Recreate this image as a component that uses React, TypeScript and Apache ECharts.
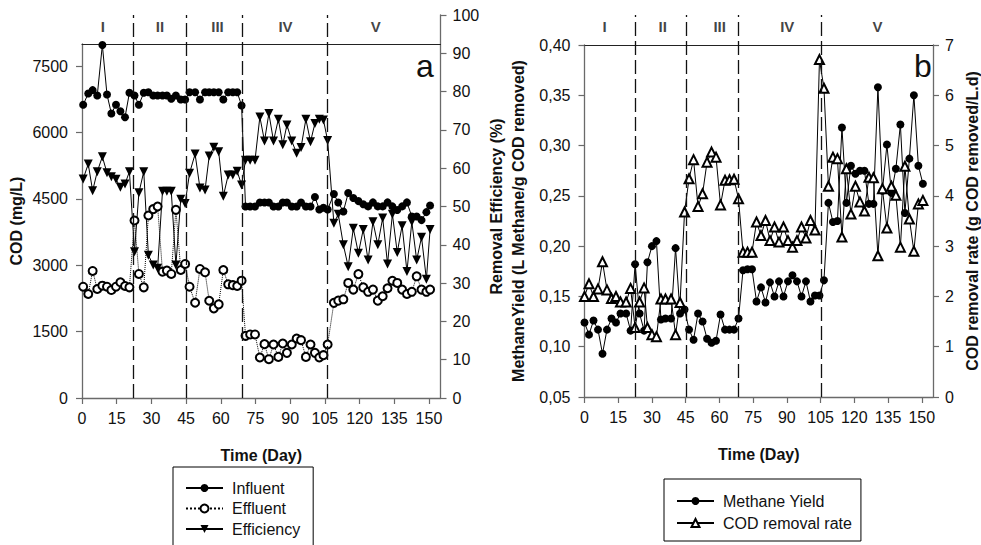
import React, { useEffect, useRef } from "react";
import * as echarts from "echarts";

const FONT = "'Liberation Sans', Arial, Helvetica, sans-serif";

// ---------- shared ----------
const phaseNames = ["I", "II", "III", "IV", "V"];
const dayTicks = [0, 15, 30, 45, 60, 75, 90, 105, 120, 135, 150];
const codTicks = [0, 1500, 3000, 4500, 6000, 7500];

// ---------- panel a ----------
const daysA = [
  0.5, 2.7, 4.6, 6.6, 8.8, 10.8, 12.7, 14.7, 16.6, 18.6, 20.5,
  22.7, 24.6, 26.7, 28.7, 30.8, 32.7, 34.8, 36.7, 38.6, 40.6, 42.7, 44.6,
  46.5, 48.9, 51, 53.2, 55, 57, 59.1, 61.1, 63.2, 65.2, 67.1, 69,
  70.7, 72.7, 74.8, 76.9, 78.9, 80.8, 82.8, 84.9, 86.8, 88.6, 90.7, 92.8, 94.7, 96.8, 98.8, 100.7, 102.6, 104.4, 106.2,
  108.9, 110.8, 113, 115.1, 117.3, 119.5, 121.6, 123.7, 125.8, 127.9, 130, 132.1, 134.2, 136.3, 138.4, 140.5, 142.6, 144.7, 146.8, 148.9, 150.5,
];
const influent = [
  6626, 6882, 6957, 6837, 7976, 6859, 6429, 6626, 6481, 6345, 6898,
  6837, 6626, 6898, 6911, 6837, 6837, 6837, 6837, 6762, 6837, 6746, 6746,
  6911, 6911, 6746, 6911, 6911, 6911, 6911, 6746, 6911, 6911, 6911, 6610,
  4328, 4328, 4328, 4419, 4419, 4419, 4328, 4328, 4419, 4419, 4328, 4328, 4419, 4328, 4328, 4541, 4260, 4298, 4260,
  4609, 4419, 4215, 4631, 4518, 4450, 4380, 4330, 4420, 4330, 4330, 4420, 4330, 4250, 4330, 4420, 4100, 4100, 4020, 4200, 4350,
];
const effluent = [
  2515, 2350, 2871, 2463, 2538, 2515, 2440, 2515, 2615, 2531, 2501,
  4011, 2803, 2501, 4124, 4269, 4328, 2855, 2878, 2803, 4253, 2893, 3029,
  2515, 2153, 2916, 2841, 2198, 2026, 2116, 2893, 2569, 2550, 2531, 2651,
  1405, 1436, 1436, 915, 1217, 877, 1209, 929, 1232, 1020, 1209, 1345, 1307, 929, 1209, 1020, 915, 968, 1209,
  2150, 2200, 2230, 2600, 2450, 2800, 2500, 2400, 2450, 2200, 2300, 2480, 2650, 2600, 2450, 2350, 2400, 2750, 2450, 2400, 2450,
];
const efficiency = [
  57.2, 61.1, 54.1, 59.1, 63.0, 58.8, 57.8, 57.1, 55.0, 55.9, 59.1,
  38.2, 53.6, 59.1, 37.3, 34.7, 33.9, 54.0, 54.0, 54.0, 34.7, 51.9, 50.8,
  58.7, 63.7, 54.8, 54.3, 63.2, 65.5, 64.3, 52.7, 58.2, 58.2, 59.2, 55.6,
  62.1, 62.1, 62.1, 73.4, 67.1, 74.3, 67.1, 72.8, 66.1, 71.3, 67.1, 63.9, 65.4, 72.8, 66.9, 71.7, 72.8, 72.6, 67.2,
  45.6, 48.0, 40.0, 34.3, 44.3, 37.8, 44.0, 36.0, 46.0, 40.0, 47.0, 35.0, 48.0, 38.0, 45.0, 33.0, 46.0, 36.0, 42.0, 31.0, 44.0,
];
const phaseBoundsA = [22, 45, 69.5, 106.2];
const phaseLabelDaysA = [9, 33.7, 58.6, 88, 127];

// ---------- panel b ----------
const daysB = [
  0, 2, 4, 6, 8, 10, 12, 14, 16, 18.5, 20.5, 22.5, 24.5, 26.5, 28, 30, 32, 34, 36,
  38.5, 40.5, 42.5, 44.5, 46.5, 48.5, 50.5, 52.5, 54.5, 56.5, 58.5, 60.5, 62.5, 64.5, 66.5, 68.5,
  70.5, 72.5, 74.5, 76.5, 78.5, 80.5, 82.5, 84.5, 86.5, 88.5, 90.5, 92.5, 94.5, 96.5, 98.5, 100.5, 102.5, 104.5, 106.5,
  108.5, 110.5, 112.5, 114.5, 116.5, 118.5, 120.5, 122.5, 124.5, 126.5, 128.5, 130.5, 132.5, 134.5, 136.5, 138.5, 140.5,
  142.5, 144.5, 146.5, 148.5, 150.5,
];
const methaneYield = [
  0.124, 0.112, 0.126, 0.117, 0.093, 0.117, 0.128, 0.124, 0.133, 0.133, 0.116, 0.182, 0.133, 0.116, 0.184, 0.2, 0.205, 0.127, 0.128,
  0.128, 0.198, 0.133, 0.137, 0.117, 0.107, 0.133, 0.125, 0.108, 0.104, 0.106, 0.132, 0.117, 0.117, 0.117, 0.128,
  0.176, 0.177, 0.177, 0.145, 0.159, 0.144, 0.164, 0.15, 0.165, 0.15, 0.165, 0.171, 0.165, 0.15, 0.165, 0.145, 0.151, 0.151, 0.166,
  0.243, 0.224, 0.225, 0.318, 0.243, 0.28, 0.272, 0.275, 0.275, 0.242, 0.242, 0.358, 0.255, 0.301, 0.253, 0.277, 0.321,
  0.233, 0.287, 0.35, 0.28, 0.262,
];
const codRemovalRate = [
  2.0, 2.25, 2.0, 2.15, 2.69, 2.13, 1.96, 2.0, 1.89, 1.89, 2.16, 1.38, 1.89, 2.17, 1.38, 1.24, 1.2, 1.95, 1.95,
  1.95, 1.24, 1.88, 3.68, 4.34, 4.72, 3.79, 4.04, 4.67, 4.87, 4.77, 3.82, 4.31, 4.32, 4.33, 3.94,
  2.88, 2.88, 2.88, 3.48, 3.21, 3.51, 3.11, 3.38, 3.08, 3.38, 3.11, 2.98, 3.11, 3.38, 3.16, 3.51, 3.32, 6.71, 6.14,
  4.19, 4.77, 4.74, 3.18, 4.54, 3.64, 4.19, 3.88, 3.7, 4.37, 4.36, 2.81, 4.14, 3.36, 4.19, 4.01, 2.98,
  4.59, 3.54, 2.9, 3.84, 3.91,
];
const phaseBoundsB = [22.7, 45, 68.1, 105];
const phaseLabelDaysB = [8.9, 34.7, 60, 90, 130];

const zip = (xs: number[], ys: number[]) => xs.map((x, i) => [x, ys[i]]);

const AXIS_GRAY = "#6a6a6a";
const TEXT = "#111";

const labelStyle = { fontSize: 16, color: TEXT, fontFamily: FONT };
const nameStyle = { fontSize: 16, fontWeight: "bold" as const, color: TEXT, fontFamily: FONT };
const plain = (v: number) => String(v);

function bottomX(gridIndex: number) {
  return {
    type: "value",
    gridIndex,
    min: 0,
    max: 155,
    interval: 15,
    position: "bottom",
    axisLine: { show: true, onZero: false, lineStyle: { color: AXIS_GRAY, width: 1.3 } },
    axisTick: { show: true, inside: false, length: 6, customValues: dayTicks, lineStyle: { color: AXIS_GRAY, width: 1.2 } },
    axisLabel: { ...labelStyle, customValues: dayTicks, margin: 12, formatter: plain },
    splitLine: { show: false },
    name: "Time (Day)",
    nameLocation: "middle",
    nameGap: 49,
    nameTextStyle: nameStyle,
  };
}
function topFrame(gridIndex: number) {
  return {
    type: "value",
    gridIndex,
    min: 0,
    max: 155,
    position: "top",
    axisLine: { show: true, onZero: false, lineStyle: { color: "#222", width: 1.2 } },
    axisTick: { show: false },
    axisLabel: { show: false },
    splitLine: { show: false },
  };
}
function hiddenX(gridIndex: number) {
  return { type: "value", gridIndex, min: 0, max: 155, show: false, splitLine: { show: false } };
}

function phaseSeries(xAxisIndex: number, yAxisIndex: number, labelDays: number[], bounds: number[]) {
  return {
    type: "scatter",
    xAxisIndex,
    yAxisIndex,
    silent: true,
    symbolSize: 0,
    data: labelDays.map((d, i) => ({ value: [d, 96.9], name: phaseNames[i] })),
    label: {
      show: true,
      position: "inside",
      formatter: "{b}",
      fontSize: 15,
      fontWeight: "bold",
      color: TEXT,
      fontFamily: FONT,
    },
    markLine: {
      silent: true,
      symbol: ["none", "none"],
      label: { show: false },
      lineStyle: { color: "#111", type: [14, 5], width: 1.3 },
      data: bounds.map((d) => ({ xAxis: d })),
    },
  };
}

export default function App() {
  const ref = useRef<HTMLDivElement>(null);

  useEffect(() => {
    if (!ref.current) return;
    const chart = echarts.init(ref.current, null, { renderer: "svg" });

    const option = {
      animation: false,
      backgroundColor: "#fff",
      textStyle: { fontFamily: FONT },
      grid: [
        { left: 82, top: 44, width: 358.5, height: 354 },
        { left: 82, top: 15, width: 358.5, height: 383 },
        { left: 584.5, top: 45, width: 349.25, height: 352 },
        { left: 584.5, top: 15, width: 349.25, height: 382 },
      ],
      xAxis: [bottomX(0), topFrame(0), hiddenX(1), bottomX(2), topFrame(2), hiddenX(3)],
      yAxis: [
        {
          type: "value",
          gridIndex: 0,
          position: "left",
          min: 0,
          max: 8000,
          axisLine: { show: true, onZero: false, lineStyle: { color: AXIS_GRAY, width: 1.3 } },
          axisTick: { show: true, length: 6, customValues: codTicks, lineStyle: { color: AXIS_GRAY, width: 1.2 } },
          axisLabel: { ...labelStyle, customValues: codTicks, margin: 14, formatter: plain },
          splitLine: { show: false },
          name: "COD (mg/L)",
          nameLocation: "middle",
          nameGap: 58,
          nameTextStyle: nameStyle,
        },
        {
          type: "value",
          gridIndex: 1,
          position: "right",
          min: 0,
          max: 100,
          interval: 10,
          axisLine: { show: true, onZero: false, lineStyle: { color: AXIS_GRAY, width: 1.3 } },
          axisTick: { show: true, length: 6, lineStyle: { color: AXIS_GRAY, width: 1.2 } },
          axisLabel: { ...labelStyle, margin: 12, formatter: plain },
          splitLine: { show: false },
          name: "Removal Efficiency (%)",
          nameLocation: "middle",
          nameGap: 48,
          nameRotate: 90,
          nameTextStyle: nameStyle,
        },
        {
          type: "value",
          gridIndex: 2,
          position: "left",
          min: 0.05,
          max: 0.4,
          interval: 0.05,
          axisLine: { show: true, onZero: false, lineStyle: { color: AXIS_GRAY, width: 1.3 } },
          axisTick: { show: true, length: 6, lineStyle: { color: AXIS_GRAY, width: 1.2 } },
          axisLabel: {
            ...labelStyle,
            margin: 14,
            formatter: (v: number) => v.toFixed(2).replace(".", ","),
          },
          splitLine: { show: false },
          name: "MethaneYield (L Methane/g COD removed)",
          nameLocation: "middle",
          nameGap: 58,
          nameTextStyle: nameStyle,
        },
        {
          type: "value",
          gridIndex: 2,
          position: "right",
          min: 0,
          max: 7,
          interval: 1,
          axisLine: { show: true, onZero: false, lineStyle: { color: AXIS_GRAY, width: 1.3 } },
          axisTick: { show: true, length: 6, lineStyle: { color: AXIS_GRAY, width: 1.2 } },
          axisLabel: { ...labelStyle, margin: 12, formatter: plain },
          splitLine: { show: false },
          name: "COD removal rate (g COD removed/L.d)",
          nameLocation: "middle",
          nameGap: 31,
          nameRotate: 90,
          nameTextStyle: nameStyle,
        },
        { type: "value", gridIndex: 3, min: 0, max: 100, show: false, splitLine: { show: false } },
      ],
      legend: [
        {
          orient: "vertical",
          left: 173,
          top: 467,
          height: 70,
          data: ["Influent", "Effluent", "Efficiency"],
          itemWidth: 37,
          itemHeight: 10,
          itemGap: 4.5,
          borderColor: "#000",
          borderWidth: 1,
          padding: [13, 13, 14, 12],
          textStyle: { ...labelStyle, padding: [0, 0, 0, 4] },
        },
        {
          orient: "vertical",
          left: 664,
          top: 479,
          height: 45,
          data: ["Methane Yield", "COD removal rate"],
          itemWidth: 37,
          itemHeight: 10,
          itemGap: 6,
          borderColor: "#000",
          borderWidth: 1,
          padding: [14, 9, 10, 12],
          textStyle: { ...labelStyle, padding: [0, 0, 0, 4] },
        },
      ],
      series: [
        {
          name: "Influent",
          type: "line",
          xAxisIndex: 0,
          yAxisIndex: 0,
          data: zip(daysA, influent),
          symbol: "circle",
          symbolSize: 8,
          itemStyle: { color: "#000" },
          lineStyle: { color: "#000", width: 1 },
        },
        {
          name: "Effluent",
          type: "line",
          xAxisIndex: 0,
          yAxisIndex: 0,
          data: zip(daysA, effluent),
          symbol: "emptyCircle",
          symbolSize: 8,
          itemStyle: { color: "#000", borderWidth: 1 },
          lineStyle: { color: "#000", width: 1, type: "dotted" },
        },
        {
          name: "Efficiency",
          type: "line",
          xAxisIndex: 2,
          yAxisIndex: 1,
          data: zip(daysA, efficiency),
          symbol: "triangle",
          symbolRotate: 180,
          symbolSize: 9,
          itemStyle: { color: "#000" },
          lineStyle: { color: "#000", width: 1 },
        },
        phaseSeries(2, 1, phaseLabelDaysA, phaseBoundsA),
        {
          name: "Methane Yield",
          type: "line",
          xAxisIndex: 3,
          yAxisIndex: 2,
          data: zip(daysB, methaneYield),
          symbol: "circle",
          symbolSize: 8,
          itemStyle: { color: "#000" },
          lineStyle: { color: "#000", width: 1 },
        },
        {
          name: "COD removal rate",
          type: "line",
          xAxisIndex: 3,
          yAxisIndex: 3,
          data: zip(daysB, codRemovalRate),
          symbol: "emptyTriangle",
          symbolSize: 9,
          itemStyle: { color: "#000", borderWidth: 1 },
          lineStyle: { color: "#000", width: 1 },
        },
        phaseSeries(5, 4, phaseLabelDaysB, phaseBoundsB),
      ],
      graphic: [
        {
          type: "text",
          left: 416,
          top: 50,
          style: { text: "a", fontSize: 32, fill: TEXT, fontFamily: FONT },
        },
        {
          type: "text",
          left: 914,
          top: 50,
          style: { text: "b", fontSize: 32, fill: TEXT, fontFamily: FONT },
        },
      ],
    };

    chart.setOption(option as any);
    return () => chart.dispose();
  }, []);

  return (
    <div
      ref={ref}
      style={{ position: "fixed", left: 0, top: 0, width: 981, height: 545, background: "#fff" }}
    />
  );
}
